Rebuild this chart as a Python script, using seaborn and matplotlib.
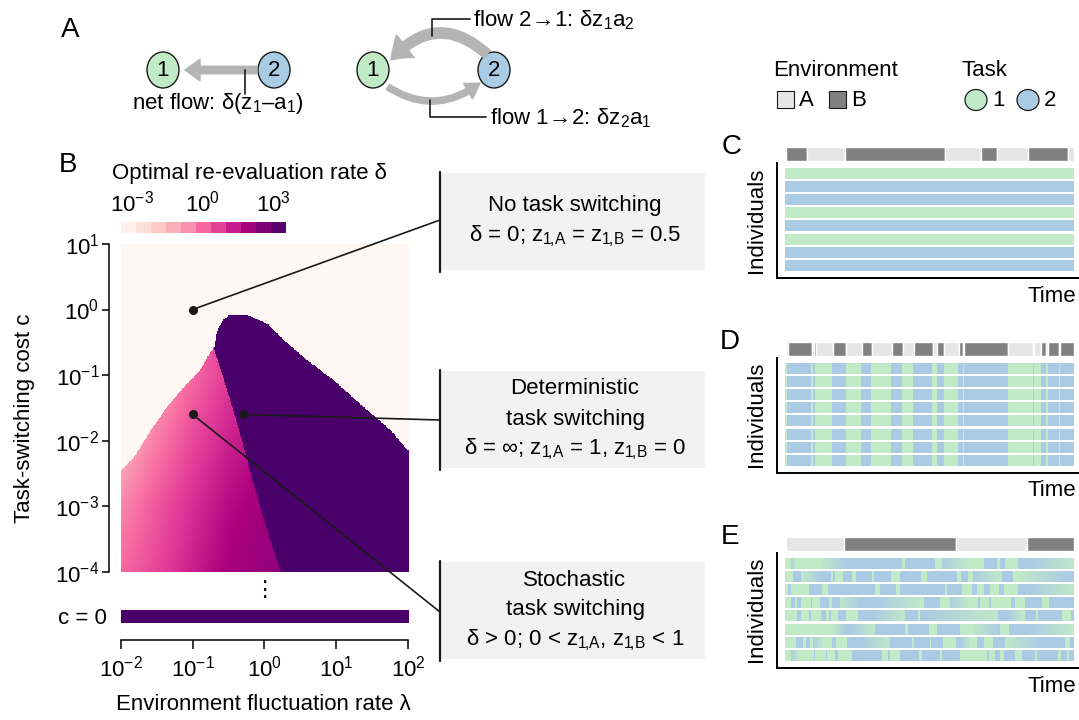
import numpy as np
import matplotlib
matplotlib.use("Agg")
import matplotlib.pyplot as plt
from matplotlib.patches import Ellipse, Rectangle, FancyArrowPatch, ConnectionPatch
from matplotlib.colors import ListedColormap
import seaborn as sns

W, H = 1079, 720

# ---- panel B: region edges (log10 units) ----
# deterministic region (delta = inf): left / right edge against log10 c
det_left_c = [-4.0, -3.5, -3.0, -2.5, -2.0, -1.5, -1.0, -0.6, -0.3, -0.15, -0.07]
det_left_lam = [0.22, 0.07, -0.07, -0.20, -0.32, -0.45, -0.59, -0.71, -0.66, -0.58, -0.48]
det_right_c = [-4.0, -2.2, -2.14, -1.84, -1.53, -1.08, -0.77, -0.46, -0.21, -0.10, -0.07]
det_right_lam = [2.5, 2.5, 1.98, 1.75, 1.42, 0.96, 0.59, 0.26, 0.03, -0.20, -0.30]
det_top_c = -0.07
# upper edge of the stochastic region against log10 lambda
stoch_lam = [-2.0, -1.82, -1.59, -1.36, -1.13, -0.90, -0.80, -0.71]
stoch_c = [-2.45, -2.25, -1.84, -1.48, -1.18, -0.92, -0.72, -0.57]
# log10 delta inside the stochastic region
pink_lam = [-2.0, -1.5, -1.0, -0.5, 0.0, 0.3]
pink_c = [-4.0, -3.0, -2.0, -1.0, -0.5]
pink_val = [
    [0.0, 0.6, 1.25, 1.85, 2.15, 2.25],
    [-0.5, 0.3, 1.0, 1.6, 1.95, 2.05],
    [-1.3, -0.3, 0.55, 1.2, 1.6, 1.7],
    [-2.0, -1.0, 0.0, 0.8, 1.1, 1.2],
    [-2.0, -1.0, 0.0, 0.7, 1.0, 1.1],
]
delta_none = -3.5      # delta = 0 (bottom of scale)
delta_inf = 3.5        # delta = inf (top of scale)
c0_delta = [delta_inf]
dots_lam = [-1.0, -0.3, -1.0]
dots_c = [0.0, -1.6, -1.6]
lam_ticks = [-2, -1, 0, 1, 2]
c_ticks = [-4, -3, -2, -1, 0, 1]
cb_bins = 11
cb_ticks = [-3, 0, 3]

# ---- panels C-E: environment switch times (fraction of time) ----
env_C_t = [0, 0.072, 0.205, 0.552, 0.677, 0.731, 0.841, 0.978, 1.0]
env_C_s = "BABABABA"
env_D_t = [0, 0.006, 0.090, 0.097, 0.103, 0.163, 0.210, 0.263, 0.298, 0.367, 0.405,
           0.443, 0.509, 0.526, 0.550, 0.599, 0.616, 0.619, 0.772, 0.858, 0.862,
           0.886, 0.903, 0.910, 0.948, 0.952, 1.0]
env_D_s = "AB" * 13
env_E_t = [0, 0.201, 0.590, 0.837, 1.0]
env_E_s = "ABAB"

# individuals: (segment end, task) ; g = task 1, b = task 2, gb/bg = blurred switch
rows_C = [[(1.0, c)] for c in ["g", "b", "b", "g", "b", "g", "b", "b"]]
rows_E = [
    [(0.021, 'g'), (0.035, 'bg'), (0.124, 'g'), (0.208, 'gb'), (0.405, 'b'), (0.415, 'g'),
     (0.519, 'b'), (0.542, 'g'), (0.634, 'bg'), (0.689, 'g'), (0.732, 'b'), (0.744, 'g'),
     (0.761, 'b'), (0.807, 'g'), (0.859, 'b'), (1.0, 'bg')],
    [(0.027, 'g'), (0.056, 'b'), (0.120, 'gb'), (0.159, 'b'), (0.167, 'g'), (0.172, 'b'),
     (0.202, 'g'), (0.231, 'b'), (0.246, 'g'), (0.302, 'b'), (0.309, 'g'), (0.367, 'b'),
     (0.398, 'g'), (0.471, 'b'), (0.491, 'g'), (0.594, 'b'), (0.609, 'g'), (0.634, 'b'),
     (0.649, 'g'), (0.750, 'bg'), (0.787, 'b'), (0.811, 'g'), (0.969, 'gb'), (1.0, 'b')],
    [(0.011, 'g'), (0.021, 'b'), (0.083, 'g'), (0.128, 'b'), (0.150, 'g'), (0.312, 'b'),
     (0.329, 'g'), (0.384, 'b'), (0.398, 'g'), (0.553, 'b'), (0.562, 'g'), (0.611, 'b'),
     (0.647, 'g'), (0.665, 'b'), (0.690, 'g'), (0.710, 'b'), (0.740, 'g'), (0.756, 'b'),
     (0.807, 'g'), (0.853, 'b'), (1.0, 'bg')],
    [(0.021, 'g'), (0.035, 'b'), (0.042, 'g'), (0.056, 'b'), (0.090, 'g'), (0.093, 'b'),
     (0.121, 'g'), (0.152, 'b'), (0.162, 'g'), (0.190, 'b'), (0.256, 'gb'), (0.329, 'b'),
     (0.467, 'bg'), (0.480, 'g'), (0.536, 'b'), (0.571, 'g'), (0.634, 'bg'), (0.669, 'g'),
     (0.675, 'b'), (0.706, 'g'), (0.713, 'b'), (0.782, 'g'), (0.794, 'b'), (0.830, 'g'),
     (0.888, 'b'), (0.913, 'g'), (1.0, 'b')],
    [(0.042, 'g'), (0.056, 'b'), (0.083, 'g'), (0.090, 'b'), (0.125, 'g'), (0.142, 'b'),
     (0.152, 'g'), (0.159, 'b'), (0.184, 'g'), (0.211, 'b'), (0.252, 'g'), (0.308, 'b'),
     (0.415, 'bg'), (0.460, 'b'), (0.467, 'g'), (0.493, 'b'), (0.738, 'bg'), (0.773, 'b'),
     (0.824, 'bg'), (0.830, 'g'), (0.868, 'b'), (0.877, 'g'), (0.957, 'b'), (0.989, 'g'),
     (1.0, 'b')],
    [(0.167, 'g'), (0.210, 'gb'), (0.231, 'b'), (0.312, 'bg'), (0.415, 'b'), (0.426, 'g'),
     (0.498, 'b'), (0.528, 'g'), (0.606, 'b'), (0.652, 'g'), (0.732, 'gb'), (0.744, 'b'),
     (0.773, 'g'), (0.853, 'b'), (0.992, 'bg'), (1.0, 'g')],
    [(0.038, 'g'), (0.062, 'b'), (0.073, 'g'), (0.087, 'b'), (0.098, 'g'), (0.131, 'bg'),
     (0.163, 'g'), (0.176, 'b'), (0.215, 'g'), (0.273, 'b'), (0.363, 'bg'), (0.439, 'b'),
     (0.446, 'g'), (0.501, 'b'), (0.507, 'g'), (0.547, 'b'), (0.591, 'g'), (0.609, 'b'),
     (0.640, 'bg'), (0.666, 'g'), (0.689, 'b'), (0.721, 'g'), (0.761, 'b'), (0.877, 'gb'),
     (0.969, 'b'), (0.985, 'g'), (1.0, 'b')],
    [(0.021, 'g'), (0.048, 'bg'), (0.101, 'g'), (0.104, 'b'), (0.142, 'g'), (0.145, 'b'),
     (0.173, 'g'), (0.184, 'b'), (0.231, 'g'), (0.336, 'b'), (0.357, 'g'), (0.363, 'b'),
     (0.398, 'g'), (0.463, 'b'), (0.474, 'g'), (0.536, 'b'), (0.542, 'g'), (0.605, 'b'),
     (0.700, 'g'), (0.706, 'b'), (0.727, 'g'), (0.744, 'b'), (0.757, 'g'), (0.797, 'b'),
     (0.820, 'g'), (0.867, 'b'), (0.873, 'g'), (0.946, 'b'), (0.955, 'g'), (0.977, 'b'),
     (0.982, 'g'), (1.0, 'b')],
]
rows_D = [[(t1, 'g' if s == 'A' else 'b') for t1, s in zip(env_D_t[1:], env_D_s)]] * 8

SUB_1A = r"$_{1\!,\!A}$"
SUB_1B = r"$_{1\!,\!B}$"
box_lines = [
    ["No task switching", f"δ = 0; z{SUB_1A} = z{SUB_1B} = 0.5"],
    ["Deterministic", "task switching", f"δ = ∞; z{SUB_1A} = 1, z{SUB_1B} = 0"],
    ["Stochastic", "task switching", f"δ > 0; 0 < z{SUB_1A}, z{SUB_1B} < 1"],
]

GREEN = "#c1ebc6"
BLUE = "#a9cbe4"
ENV_COL = {"A": "#e6e6e6", "B": "#808080"}
ARROW = "#b4b4b4"
BOXC = "#f2f2f2"

sns.set_theme(style="ticks", rc={
    "axes.edgecolor": "black", "axes.linewidth": 1.1, "text.color": "black",
    "axes.labelcolor": "black", "xtick.color": "black", "ytick.color": "black",
    "xtick.major.width": 1.1, "ytick.major.width": 1.1,
})
plt.rcParams['font.family'] = ['Liberation Sans', 'DejaVu Sans']
plt.rcParams['mathtext.fontset'] = 'custom'
plt.rcParams['mathtext.rm'] = 'Liberation Sans'
plt.rcParams['mathtext.it'] = 'Liberation Sans'
plt.rcParams['mathtext.bf'] = 'Liberation Sans:bold'
FS = 16

rdpu = sns.color_palette("RdPu", as_cmap=True)
task_cmap = sns.blend_palette([GREEN, BLUE], as_cmap=True)

fig = plt.figure(figsize=(W / 100, H / 100), dpi=100)


def px(x0, y0, x1, y1):
    return [x0 / W, 1 - y1 / H, (x1 - x0) / W, (y1 - y0) / H]


def pow_labels(ks):
    return [rf"$10^{{{k}}}$" for k in ks]


# ---------------- panel B heatmap ----------------
lam = np.linspace(-2, 2, 480)
cc = np.linspace(-4, 1, 400)
L, C = np.meshgrid(lam, cc)
left = np.interp(C, det_left_c, det_left_lam)
right = np.interp(C, det_right_c, det_right_lam)
purple = (C <= det_top_c) & (L >= left) & (L <= right)
pink = (C <= np.interp(L, stoch_lam, stoch_c)) & (L < left) & ~purple
by_row = np.array([np.interp(lam, pink_lam, r) for r in pink_val])
pv = np.array([np.interp(cc, pink_c, by_row[:, j]) for j in range(len(lam))]).T
V = np.full(L.shape, delta_none)
V[pink] = pv[pink]
V[purple] = delta_inf

ax_hm = fig.add_axes(px(120.7, 244, 408, 571.7))
ax_hm.imshow(V, origin="lower", extent=[-2, 2, -4, 1], aspect="auto", cmap=rdpu,
             vmin=-3.5, vmax=3.5, interpolation="nearest")
ax_hm.plot(dots_lam, dots_c, "o", color="k", ms=5.5, zorder=5)
ax_hm.set_xlim(-2, 2)
ax_hm.set_ylim(-4, 1)
sns.despine(ax=ax_hm, bottom=True, offset={"left": 8.4})
ax_hm.set_xticks([])
ax_hm.set_yticks(c_ticks)
ax_hm.set_yticklabels(pow_labels(c_ticks))
ax_hm.tick_params(axis="y", length=5, pad=2, labelsize=FS)

ax_c0 = fig.add_axes(px(120.7, 610, 408, 623))
ax_c0.imshow(np.array([c0_delta]), extent=[-2, 2, 0, 1], aspect="auto", cmap=rdpu,
             vmin=-3.5, vmax=3.5)
ax_c0.set_xlim(-2, 2)
ax_c0.set_ylim(0, 1)
sns.despine(ax=ax_c0, left=True, offset={"bottom": 12.2})
ax_c0.set_xticks(lam_ticks)
ax_c0.set_xticklabels(pow_labels(lam_ticks))
ax_c0.set_yticks([0.5])
ax_c0.set_yticklabels(["c = 0"])
ax_c0.tick_params(axis="x", length=6.5, pad=5, labelsize=FS)
ax_c0.tick_params(axis="y", length=0, pad=10, labelsize=FS)

ax_cb = fig.add_axes(px(120.7, 222, 285, 233))
cb_cols = rdpu((np.arange(cb_bins) + 0.5) / cb_bins)
ax_cb.imshow(np.arange(cb_bins)[None, :], extent=[-3.5, 3.5, 0, 1], aspect="auto",
             cmap=ListedColormap(cb_cols))
ax_cb.set_xlim(-3.5, 3.5)
for s in ax_cb.spines.values():
    s.set_visible(False)
ax_cb.xaxis.tick_top()
ax_cb.set_xticks(cb_ticks)
ax_cb.set_xticklabels(pow_labels(cb_ticks))
ax_cb.set_yticks([])
ax_cb.tick_params(axis="x", length=0, pad=4, labelsize=FS)


# ---------------- panels C, D, E ----------------
CODES = {"g": (0.0, 0.0), "b": (1.0, 1.0), "gb": (0.1, 0.9), "bg": (0.9, 0.1)}


def row_values(segs, n=870):
    t = (np.arange(n) + 0.5) / n
    v = np.zeros(n)
    t0 = 0.0
    for t1, code in segs:
        a, b = CODES[code]
        m = (t >= t0) & (t < t1)
        v[m] = a + (b - a) * (t[m] - t0) / (t1 - t0)
        t0 = t1
    return v


def draw_panel(top, env_t, env_s, rows):
    ax_env = fig.add_axes(px(786, top - 21, 1074, top - 7))
    ax_env.broken_barh([(a, b - a) for a, b in zip(env_t[:-1], env_t[1:])], (0, 1),
                       facecolors=[ENV_COL[s] for s in env_s])
    ax_env.set_xlim(0, 1)
    ax_env.set_ylim(0, 1)
    ax_env.axis("off")

    ax = fig.add_axes(px(777, top - 5, 1079, top + 110))
    for i, segs in enumerate(rows):
        y0 = 7 - i
        ax.imshow(row_values(segs)[None, :], extent=[0, 1, y0, y0 + 0.8], aspect="auto",
                  cmap=task_cmap, vmin=0, vmax=1, interpolation="nearest")
    ax.set_xlim(-8 / 289, 1 + 5 / 289)
    ax.set_ylim(-7 / 13.2, 7.8 + 5 / 13.2)
    ax.set_xticks([])
    ax.set_yticks([])
    sns.despine(ax=ax)
    for s in ("left", "bottom"):
        ax.spines[s].set_linewidth(1.4)


draw_panel(168, env_C_t, env_C_s, rows_C)
draw_panel(363, env_D_t, env_D_s, rows_D)
draw_panel(558, env_E_t, env_E_s, rows_E)

# ---------------- overlay: panel A, legend, boxes, labels ----------------
ov = fig.add_axes([0, 0, 1, 1])
ov.set_xlim(0, W)
ov.set_ylim(H, 0)
ov.axis("off")


def node(x, y, label, color, w=32, h=36, fs=FS):
    ov.add_patch(Ellipse((x, y), w, h, facecolor=color, edgecolor="k", lw=1.0))
    ov.text(x, y + 1, label, ha="center", va="center", fontsize=fs)


# net flow diagram
node(163, 70, "1", GREEN)
node(274, 70, "2", BLUE)
ov.add_patch(FancyArrowPatch((257, 70), (185, 70), shrinkA=0, shrinkB=0, color=ARROW,
                             arrowstyle="simple,head_length=0.9,head_width=1.3,tail_width=0.45",
                             mutation_scale=12))
ov.plot([245, 245], [70, 94], color="k", lw=1.2)
ov.text(218, 104, "net flow: δ(z$_1$–a$_1$)", ha="center", va="center", fontsize=FS)

# flow cycle
node(373, 70, "1", GREEN)
node(494, 70, "2", BLUE)
ov.add_patch(FancyArrowPatch((487, 54), (391, 60), shrinkA=0, shrinkB=0, color=ARROW,
                             connectionstyle="arc3,rad=0.5",
                             arrowstyle="simple,head_length=1.1,head_width=1.6,tail_width=0.55",
                             mutation_scale=13))
ov.add_patch(FancyArrowPatch((388, 87), (480, 83), shrinkA=0, shrinkB=0, color=ARROW,
                             connectionstyle="arc3,rad=0.35",
                             arrowstyle="simple,head_length=1.3,head_width=1.6,tail_width=0.55",
                             mutation_scale=8))
ov.plot([432, 432, 470], [36, 19, 19], color="k", lw=1.2)
ov.text(473, 20, r"flow 2$\!{\rightarrow}\!$1: δz$_1$a$_2$", ha="left", va="center",
        fontsize=FS)
ov.plot([430, 430, 486], [100, 117, 117], color="k", lw=1.2)
ov.text(490, 118, r"flow 1$\!{\rightarrow}\!$2: δz$_2$a$_1$", ha="left", va="center",
        fontsize=FS)

# legend
ov.text(773, 70, "Environment", ha="left", va="center", fontsize=FS)
ov.add_patch(Rectangle((777, 91), 17, 17, facecolor=ENV_COL["A"], edgecolor="k", lw=0.8))
ov.text(799, 100, "A", ha="left", va="center", fontsize=FS)
ov.add_patch(Rectangle((829, 91), 17, 17, facecolor=ENV_COL["B"], edgecolor="k", lw=0.8))
ov.text(851, 100, "B", ha="left", va="center", fontsize=FS)
ov.text(961, 70, "Task", ha="left", va="center", fontsize=FS)
ov.add_patch(Ellipse((976, 100), 22, 21, facecolor=GREEN, edgecolor="k", lw=0.9))
ov.text(992, 100, "1", ha="left", va="center", fontsize=FS)
ov.add_patch(Ellipse((1028, 100), 22, 21, facecolor=BLUE, edgecolor="k", lw=0.9))
ov.text(1044, 100, "2", ha="left", va="center", fontsize=FS)

# regime boxes with leader lines to the dots
box_tops = [173, 371, 562]
box_hits = [220, 420, 612]
for top, lines, hit, dl, dc in zip(box_tops, box_lines, box_hits, dots_lam, dots_c):
    ov.add_patch(Rectangle((440, top), 265, 97, facecolor=BOXC, edgecolor="none"))
    ov.plot([440, 440], [top - 1, top + 99], color="k", lw=1.6)
    n = len(lines)
    for j, s in enumerate(lines):
        ov.text(575, top + 48 + (j - (n - 1) / 2) * 30, s, ha="center", va="center",
                fontsize=FS)
    fig.add_artist(ConnectionPatch(xyA=(dl, dc), coordsA=ax_hm.transData,
                                   xyB=(440, hit), coordsB=ov.transData,
                                   color="k", lw=1.2))

# axis titles and panel letters
ov.text(112, 174, "Optimal re-evaluation rate δ", ha="left", va="center", fontsize=FS)
ov.text(25, 418, "Task-switching cost c", ha="center", va="center", rotation=90, fontsize=FS)
ov.text(263, 704, "Environment fluctuation rate λ", ha="center", va="center", fontsize=FS)
ov.text(264, 590, "⋮", ha="center", va="center", fontsize=FS)
for lab, x, y in [("A", 70, 30), ("B", 68, 165), ("C", 732, 147), ("D", 730, 342), ("E", 730, 537)]:
    ov.text(x, y, lab, ha="center", va="center", fontsize=20)
for y in [220, 414, 609]:
    ov.text(757, y, "Individuals", ha="center", va="center", rotation=90, fontsize=FS)
for y in [296, 491, 686]:
    ov.text(1076, y, "Time", ha="right", va="center", fontsize=FS)

fig.savefig("out.png", dpi=100)
